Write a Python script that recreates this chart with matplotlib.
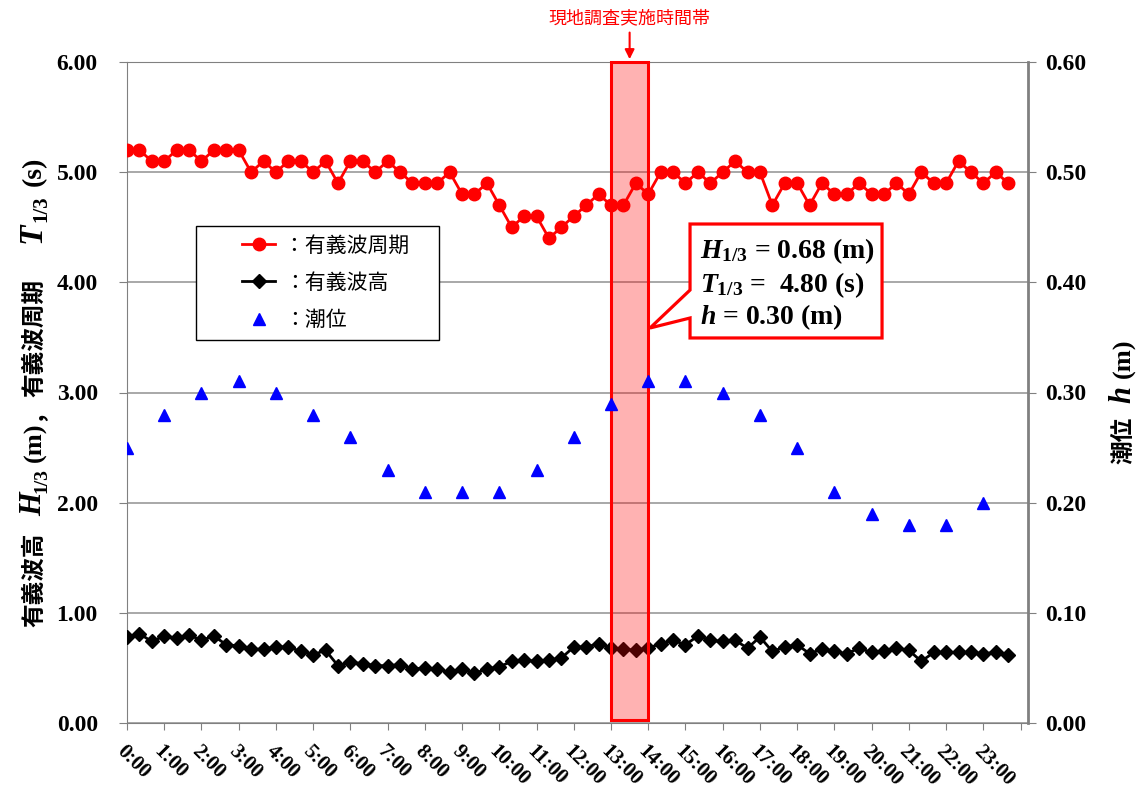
import numpy as np
import matplotlib
matplotlib.use('Agg')
import matplotlib.pyplot as plt
from matplotlib.patches import Polygon
from matplotlib.legend_handler import HandlerLine2D

# 20分間隔の観測値
minutes = np.arange(0, 24 * 60, 20)
t13 = [5.2, 5.2, 5.1, 5.1, 5.2, 5.2, 5.1, 5.2, 5.2, 5.2, 5.0, 5.1, 5.0, 5.1, 5.1, 5.0,
       5.1, 4.9, 5.1, 5.1, 5.0, 5.1, 5.0, 4.9, 4.9,
       4.9, 5.0, 4.8, 4.8, 4.9, 4.7, 4.5, 4.6, 4.6, 4.4, 4.5, 4.6, 4.7, 4.8, 4.7, 4.7,
       4.9, 4.8, 5.0, 5.0, 4.9, 5.0, 4.9, 5.0, 5.1,
       5.0, 5.0, 4.7, 4.9, 4.9, 4.7, 4.9, 4.8, 4.8, 4.9, 4.8, 4.8, 4.9, 4.8, 5.0, 4.9,
       4.9, 5.1, 5.0, 4.9, 5.0, 4.9]
h13 = [0.78, 0.81, 0.74, 0.79, 0.77, 0.80, 0.75, 0.79, 0.71, 0.70, 0.67, 0.67, 0.69,
       0.69, 0.65, 0.62, 0.66, 0.52, 0.55, 0.54, 0.52, 0.52, 0.53, 0.49, 0.50,
       0.49, 0.46, 0.49, 0.45, 0.49, 0.51, 0.56, 0.57, 0.56, 0.57, 0.59, 0.69, 0.69,
       0.72, 0.68, 0.67, 0.66, 0.68, 0.72, 0.75, 0.71, 0.79, 0.75, 0.74, 0.75,
       0.68, 0.78, 0.65, 0.69, 0.71, 0.63, 0.67, 0.65, 0.63, 0.68, 0.64, 0.65, 0.68,
       0.66, 0.56, 0.64, 0.64, 0.64, 0.64, 0.63, 0.64, 0.62]

# 毎正時の潮位
tide_hours = np.arange(0, 24)
tide = [0.25, 0.28, 0.30, 0.31, 0.30, 0.28, 0.26, 0.23, 0.21, 0.21, 0.21, 0.23,
        0.26, 0.29, 0.31, 0.31, 0.30, 0.28, 0.25, 0.21, 0.19, 0.18, 0.18, 0.20]

hour_labels = ['%d:00' % h for h in range(24)]
survey_start, survey_end = 13, 14
callout_lines = [r'$H_{1/3}$ = 0.68 (m)', r'$T_{1/3}$ =  4.80 (s)', r'$h$ = 0.30 (m)']

SERIF = 'Liberation Serif'
CJK = 'Noto Sans CJK JP'
plt.rcParams['font.family'] = [SERIF, CJK]
plt.rcParams['font.weight'] = 'bold'
plt.rcParams['mathtext.fontset'] = 'custom'
plt.rcParams['mathtext.rm'] = 'Liberation Serif:bold'
plt.rcParams['mathtext.it'] = 'Liberation Serif:italic:bold'
plt.rcParams['mathtext.bf'] = 'Liberation Serif:bold'

W, H = 1137, 789
fig = plt.figure(figsize=(W / 100, H / 100), dpi=100)
ax = fig.add_axes([127 / W, 1 - 723 / H, 901 / W, 661 / H])
ax2 = ax.twinx()

hours = minutes / 60
ax.plot(hours, t13, color='red', lw=2, marker='o', ms=9, zorder=3, label='：有義波周期　')
ax.plot(hours, h13, color='black', lw=2, marker='D', ms=7, zorder=3, label='：有義波高')
ax2.plot(tide_hours, tide, ls='none', marker='^', color='blue', ms=9, label='：潮位')

# 現地調査実施時間帯
ax.axvspan(survey_start, survey_end, ymin=0.005, ymax=1.0, facecolor=(1, 0, 0, 0.3),
           edgecolor='red', lw=2.2, zorder=4, clip_on=False)
ax.annotate('現地調査実施時間帯', xy=((survey_start + survey_end) / 2, 6.0),
            xytext=(0, 35), textcoords='offset pixels', ha='center', va='bottom',
            color='red', family=CJK, fontsize=13, weight='normal',
            arrowprops=dict(arrowstyle='-|>', color='red', lw=1.5, mutation_scale=14,
                            shrinkA=2, shrinkB=2),
            annotation_clip=False)

# axes
ax.set_xlim(0, 24.2)
ax.set_ylim(0, 6)
ax2.set_ylim(0, 0.6)
ax.set_yticks(np.arange(0, 6.01, 1))
ax2.set_yticks(np.arange(0, 0.601, 0.1))
ax.yaxis.set_major_formatter('{x:.2f}')
ax2.yaxis.set_major_formatter('{x:.2f}')
ax.set_xticks(range(25))
ax.set_xticklabels(hour_labels + [''], rotation=-45, ha='left', va='top',
                   rotation_mode='anchor', fontsize=15)
ax.tick_params(axis='x', direction='out', length=5, color='#808080', pad=8)
ax.tick_params(axis='y', direction='out', length=6, color='#808080', pad=15, labelsize=17)
ax2.tick_params(axis='y', direction='out', length=6, color='#808080', pad=6, labelsize=17)

ax.yaxis.grid(True, color='#999999', lw=1.2)
ax.set_axisbelow(True)
for s in ['left', 'bottom', 'top']:
    ax.spines[s].set_color('#808080')
ax.spines['right'].set_visible(False)
for s in ['left', 'bottom', 'top']:
    ax2.spines[s].set_visible(False)
ax2.spines['right'].set_color('#808080')
ax2.spines['right'].set_linewidth(2)

# 凡例
handles = ax.get_lines()[:2] + ax2.get_lines()
hm = {h: HandlerLine2D(xpad=1.81) for h in handles}
leg = ax2.legend(handles=handles, loc='upper left', bbox_to_anchor=(196 / W, 1 - 226 / H),
                 bbox_transform=fig.transFigure, borderaxespad=0, borderpad=0.4,
                 handlelength=3.39, handletextpad=0.45, labelspacing=0.74,
                 prop={'family': CJK, 'size': 15, 'weight': 'normal'},
                 fancybox=False, edgecolor='black', framealpha=1, numpoints=1,
                 handler_map=hm)
leg.get_frame().set_linewidth(1)
leg.set_zorder(10)

# 吹き出し
bx0, bx1, by0, by1 = 0.6249, 0.838, 0.5825, 0.7549
callout = Polygon([(bx0, by1), (bx1, by1), (bx1, by0), (bx0, by0), (bx0, 0.6127),
                   (0.5805, 0.5976), (bx0, 0.655)], closed=True, transform=ax2.transAxes,
                  facecolor='white', edgecolor='red', lw=2.3, zorder=10, clip_on=False)
ax2.add_patch(callout)
for line, yy in zip(callout_lines, [0.7035, 0.652, 0.6036]):
    ax2.text(0.636, yy, line, transform=ax2.transAxes, fontsize=20, family=SERIF,
             weight='bold', va='baseline', ha='left', zorder=11)

# 軸ラベル (縦書き、部分ごとに積む)
renderer = fig.canvas.get_renderer()


def stack_label(pieces, x, y):
    for text, family, size, style, dx, gap in pieces:
        t = fig.text((x + dx) / W, y / H, text, rotation=90, rotation_mode='anchor',
                     ha='left', va='baseline', family=family, size=size, style=style,
                     weight='bold')
        bb = t.get_window_extent(renderer)
        y = bb.y1 + gap


stack_label([('有義波高', CJK, 17, 'normal', 0, 16),
             ('H', SERIF, 22, 'italic', 0, 0),
             ('1/3', SERIF, 14, 'normal', 5, 6),
             ('(m)', SERIF, 19, 'normal', 0, 1),
             ('，', CJK, 17, 'normal', 0, 1),
             ('有義波周期', CJK, 17, 'normal', 0, 36),
             ('T', SERIF, 24, 'italic', 0, 0),
             ('1/3', SERIF, 15, 'normal', 5, 10),
             ('(s)', SERIF, 20, 'normal', 0, 0)], 41, 789 - 627)

stack_label([('潮位', CJK, 17, 'normal', 0, 14),
             ('h', SERIF, 22, 'italic', 0, 8),
             ('(m)', SERIF, 19, 'normal', 0, 0)], 1130, 789 - 464)

fig.savefig('out.png', dpi=100)
